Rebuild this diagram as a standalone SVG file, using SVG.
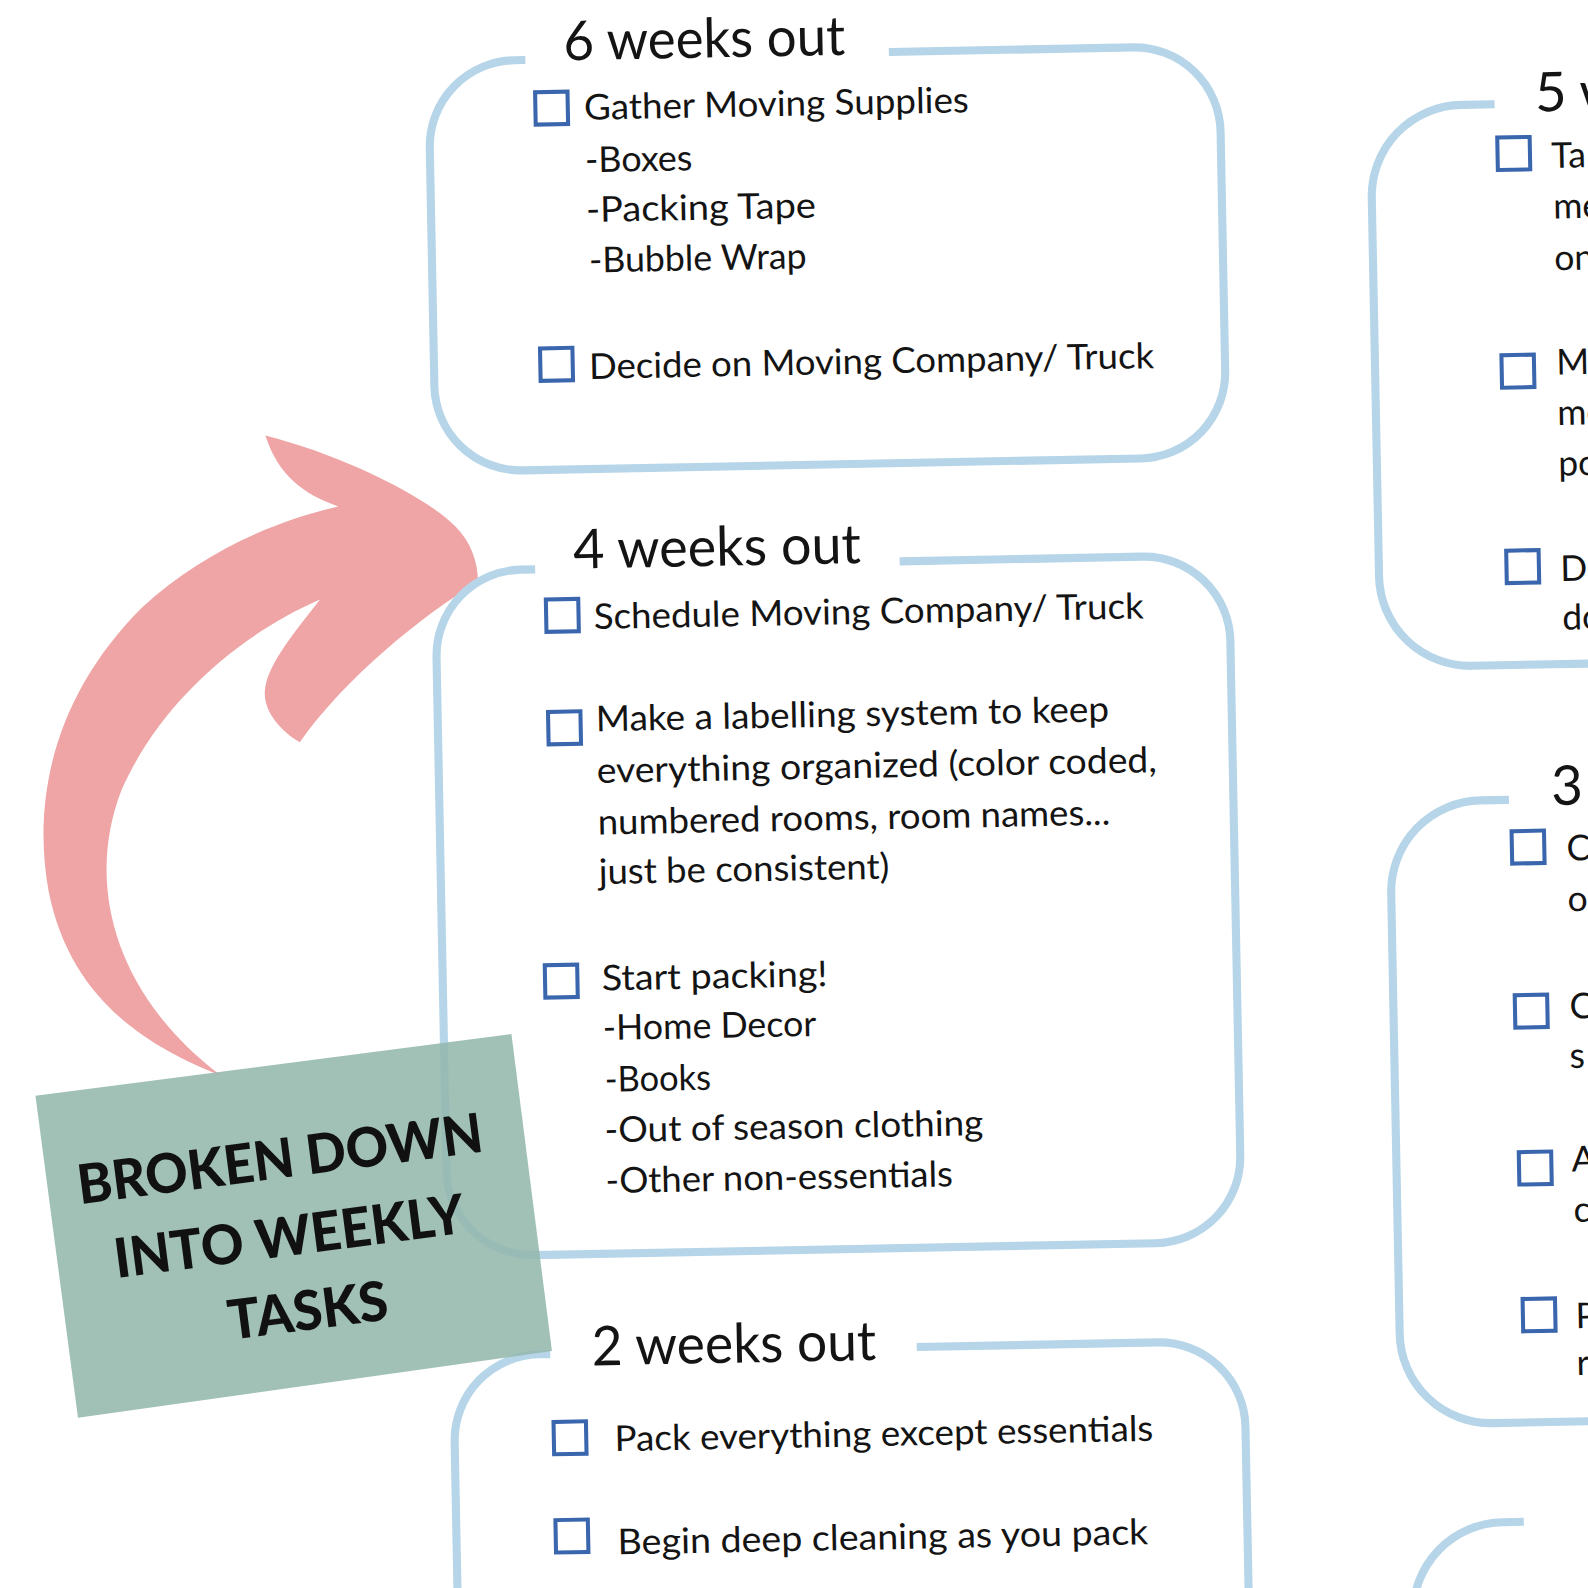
<svg xmlns="http://www.w3.org/2000/svg" width="1588" height="1588" viewBox="0 0 1588 1588">
<style>
.card{fill:none;stroke:#b6d5e8;stroke-width:8;stroke-linecap:butt}
.cb{fill:#fff;stroke:#3a66ae;stroke-width:4}
.t{font-family:Lato,"Noto Sans","DejaVu Sans",sans-serif;font-size:35px;font-weight:400;fill:#141414}
.h{font-family:Lato,"Noto Sans","DejaVu Sans",sans-serif;font-size:54px;font-weight:400;fill:#141414}
.lab{font-family:Lato,"Liberation Sans","DejaVu Sans",sans-serif;font-size:54px;font-weight:900;fill:#111;text-anchor:middle}
</style>
<rect x="0" y="0" width="1588" height="1588" fill="#fff"/>
<g transform="scale(1.01276)">
<g id="connectors">
<path id="arrow" fill="#efa4a5" d="M 218 1062 C 150 1035, 70 990, 48 880 C 30 780, 60 680, 140 600 C 200 545, 270 515, 334 500 C 300 488, 275 470, 262 430 C 340 450, 420 490, 450 520 C 465 535, 472 555, 472 575 C 420 605, 340 670, 296 733 C 275 720, 258 700, 262 678 C 266 655, 290 625, 316 592 C 240 625, 160 690, 120 780 C 85 870, 110 980, 218 1062 Z"/>
</g>
<g transform="rotate(-1.1 800 800)">
<g id="card-6-weeks">
<path class="card" d="M 533 54 H 522 A 85 85 0 0 0 437 139 V 374 A 85 85 0 0 0 522 459 H 1133 A 85 85 0 0 0 1218 374 V 138 A 85 85 0 0 0 1133 53 H 892"/>
<text class="h" x="571" y="55" textLength="278" lengthAdjust="spacingAndGlyphs">6 weeks out</text>
<rect class="cb" x="542" y="86" width="32" height="32"/>
<text class="t" x="590" y="114" textLength="380" lengthAdjust="spacingAndGlyphs">Gather Moving Supplies</text>
<text class="t" x="590" y="166" textLength="106" lengthAdjust="spacingAndGlyphs">-Boxes</text>
<text class="t" x="590" y="215" textLength="227" lengthAdjust="spacingAndGlyphs">-Packing Tape</text>
<text class="t" x="592" y="265" textLength="215" lengthAdjust="spacingAndGlyphs">-Bubble Wrap</text>
<rect class="cb" x="542" y="339" width="32" height="32"/>
<text class="t" x="590" y="370" textLength="558" lengthAdjust="spacingAndGlyphs">Decide on Moving Company/ Truck</text>
</g>
<g id="card-4-weeks">
<path class="card" d="M 533 557 H 519 A 85 85 0 0 0 434 642 V 1149 A 85 85 0 0 0 519 1234 H 1133 A 85 85 0 0 0 1218 1149 V 641 A 85 85 0 0 0 1133 556 H 893"/>
<text class="h" x="571" y="557" textLength="284" lengthAdjust="spacingAndGlyphs">4 weeks out</text>
<rect class="cb" x="543" y="587" width="32" height="32"/>
<text class="t" x="590" y="617" textLength="543" lengthAdjust="spacingAndGlyphs">Schedule Moving Company/ Truck</text>
<rect class="cb" x="543" y="698" width="32" height="32"/>
<text class="t" x="590" y="718" textLength="507" lengthAdjust="spacingAndGlyphs">Make a labelling system to keep</text>
<text class="t" x="590" y="769" textLength="553" lengthAdjust="spacingAndGlyphs">everything organized (color coded,</text>
<text class="t" x="590" y="820" textLength="506" lengthAdjust="spacingAndGlyphs">numbered rooms, room names...</text>
<text class="t" x="590" y="869" textLength="287" lengthAdjust="spacingAndGlyphs">just be consistent)</text>
<rect class="cb" x="535" y="948" width="32" height="32"/>
<text class="t" x="591" y="974" textLength="223" lengthAdjust="spacingAndGlyphs">Start packing!</text>
<text class="t" x="591" y="1023" textLength="211" lengthAdjust="spacingAndGlyphs">-Home Decor</text>
<text class="t" x="592" y="1074" textLength="105" lengthAdjust="spacingAndGlyphs">-Books</text>
<text class="t" x="591" y="1124" textLength="374" lengthAdjust="spacingAndGlyphs">-Out of season clothing</text>
<text class="t" x="591" y="1174" textLength="343" lengthAdjust="spacingAndGlyphs">-Other non-essentials</text>
</g>
<g id="card-2-weeks">
<path class="card" d="M 533 1332 H 522 A 85 85 0 0 0 437 1417 V 1720 M 895 1332 H 1133 A 85 85 0 0 1 1218 1417 V 1720"/>
<text class="h" x="574" y="1344" textLength="281" lengthAdjust="spacingAndGlyphs">2 weeks out</text>
<rect class="cb" x="535" y="1399" width="32" height="32"/>
<text class="t" x="595" y="1429" textLength="532" lengthAdjust="spacingAndGlyphs">Pack everything except essentials</text>
<rect class="cb" x="535" y="1496" width="32" height="32"/>
<text class="t" x="596" y="1531" textLength="524" lengthAdjust="spacingAndGlyphs">Begin deep cleaning as you pack</text>
</g>
<g id="card-5-weeks">
<path class="card" d="M 1489 116 H 1456 A 90 90 0 0 0 1366 206 V 580 A 90 90 0 0 0 1456 670 H 1700"/>
<text class="h" x="1529" y="124">5 w</text>
<rect class="cb" x="1491" y="149" width="32" height="32"/>
<text class="t" x="1544" y="180">Ta</text>
<text class="t" x="1545" y="230">me</text>
<text class="t" x="1545" y="281">on</text>
<rect class="cb" x="1491" y="364" width="32" height="32"/>
<text class="t" x="1545" y="384">Ma</text>
<text class="t" x="1545" y="434">me</text>
<text class="t" x="1545" y="484">po</text>
<rect class="cb" x="1492" y="557" width="32" height="32"/>
<text class="t" x="1545" y="588">De</text>
<text class="t" x="1546" y="636">do</text>
</g>
<g id="card-3-weeks">
<path class="card" d="M 1490 803 H 1462 A 90 90 0 0 0 1372 893 V 1328 A 90 90 0 0 0 1462 1418 H 1700"/>
<text class="h" x="1532" y="809">3</text>
<rect class="cb" x="1492" y="834" width="32" height="32"/>
<text class="t" x="1546" y="864">C</text>
<text class="t" x="1546" y="914">o</text>
<rect class="cb" x="1492" y="996" width="32" height="32"/>
<text class="t" x="1546" y="1020">C</text>
<text class="t" x="1545" y="1069">s</text>
<rect class="cb" x="1493" y="1151" width="32" height="32"/>
<text class="t" x="1545" y="1171">A</text>
<text class="t" x="1546" y="1221">c</text>
<rect class="cb" x="1494" y="1296" width="32" height="32"/>
<text class="t" x="1546" y="1326">P</text>
<text class="t" x="1546" y="1372">r</text>
</g>
<g id="card-next">
<path class="card" d="M 1491 1516 H 1470 A 90 90 0 0 0 1380 1606 V 1720"/>
</g>
</g>
<g id="label-box">
<polygon points="35,1082 505,1021 545,1334 77,1400" fill="#94b8ad" fill-opacity="0.88"/>
<g transform="translate(290 1210) rotate(-7.4)">
<text class="lab" x="-5" y="-48" textLength="403" lengthAdjust="spacingAndGlyphs">BROKEN DOWN</text>
<text class="lab" x="-6" y="29" textLength="348" lengthAdjust="spacingAndGlyphs">INTO WEEKLY</text>
<text class="lab" x="3" y="104" textLength="159" lengthAdjust="spacingAndGlyphs">TASKS</text>
</g>
</g>
</g>
</svg>
